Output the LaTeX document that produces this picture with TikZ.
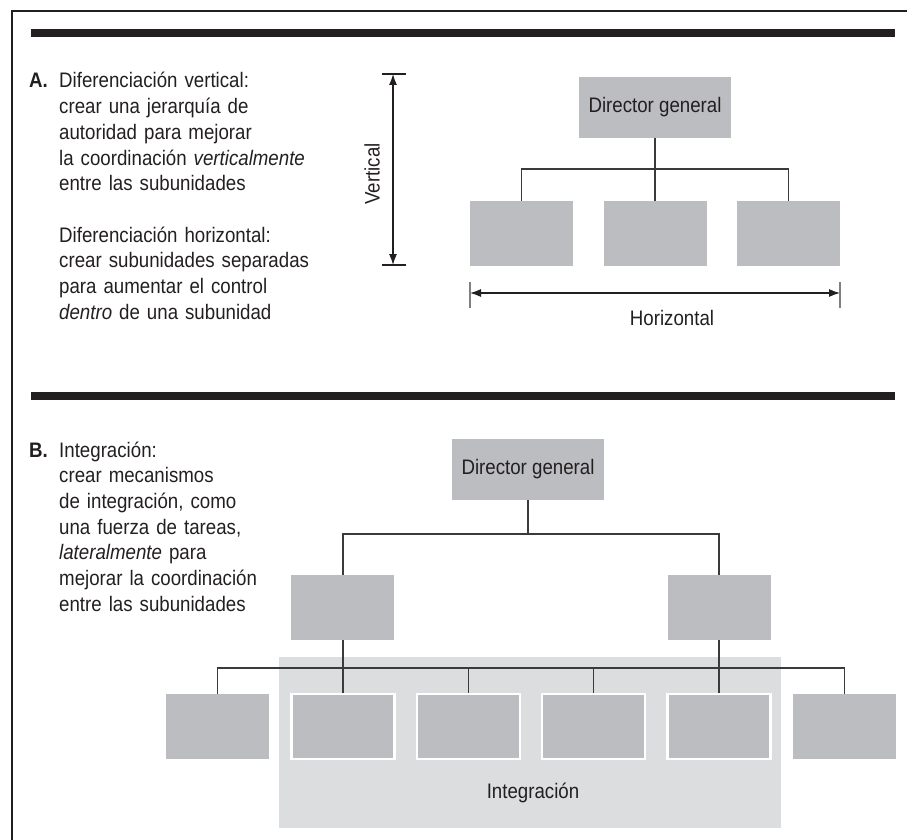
\documentclass[tikz,border=0pt]{standalone}
\usepackage{fontspec}
\setmainfont{Liberation Sans}[FakeStretch=0.89]
\usetikzlibrary{arrows.meta}
\definecolor{grisCaja}{HTML}{BCBDC0}
\definecolor{grisFondo}{HTML}{DCDDDF}
\definecolor{tinta}{HTML}{231F20}
\definecolor{linea}{HTML}{3A3A3C}

\begin{document}
\begin{tikzpicture}
  [x=1pt,y=-1pt,
   every node/.style={text=tinta,font=\fontsize{21}{25.7}\selectfont},
   jefe/.style={rectangle,fill=grisCaja,minimum width=152pt,minimum height=61pt,inner sep=0pt},
   unidad/.style={rectangle,fill=grisCaja,minimum width=103pt,minimum height=65pt,inner sep=0pt},
   integrada/.style={unidad,draw=white,line width=2.5pt},
   fondo/.style={rectangle,fill=grisFondo,minimum width=502pt,minimum height=171pt,inner sep=0pt},
   texto/.style={anchor=base west,align=left,text width=280pt,inner sep=0pt},
   conector/.style={draw=linea,line width=1.3pt},
   flecha/.style={draw=tinta,line width=1.2pt,{Latex[length=11pt,width=8pt]}-{Latex[length=11pt,width=8pt]}},
   marca/.style={draw=tinta,line width=1.2pt}]
  \useasboundingbox (0,0) rectangle (907,840);

  %Marco y barras
  \draw[tinta,line width=2pt] (12,840) -- (12,11) -- (907,11);
  \fill[tinta] (31,29) rectangle (895,37);
  \fill[tinta] (31,392) rectangle (895,400);

  %Parte A
  \node[anchor=base west,inner sep=0pt] (letraA) at (29,88) {\textbf{A.}};
  \node[texto] (textoA) at (59,88) {Diferenciación vertical:\\ crear una jerarquía de\\
    autoridad para mejorar\\ la coordinación \textit{verticalmente}\\ entre las subunidades\\[25.7pt]
    Diferenciación horizontal:\\ crear subunidades separadas\\ para aumentar el control\\
    \textit{dentro} de una subunidad};

  \node[jefe] (dirA) at (655,107.5) {Director general};
  \foreach \i/\x in {1/521.5,2/655,3/788.5}
    \node[unidad] (a\i) at (\x,233.5) {};
  \coordinate (busA) at (655,169);
  \draw[conector] (dirA) -- (busA);
  \foreach \i in {1,2,3}
    \draw[conector] (busA) -| (a\i);

  %Flechas vertical y horizontal
  \coordinate (vArriba) at (393,74);
  \coordinate (vAbajo) at (393,265);
  \draw[flecha] (vArriba) -- (vAbajo);
  \draw[marca] ([xshift=-11pt]vArriba) -- ([xshift=13pt]vArriba);
  \draw[marca] ([xshift=-11pt]vAbajo) -- ([xshift=13pt]vAbajo);
  \node[rotate=90] (etqV) at (372,174) {Vertical};

  \coordinate (hIzq) at (470,293);
  \coordinate (hDer) at (840,293);
  \draw[flecha] (hIzq) -- (hDer);
  \draw[marca,draw=gray] ([yshift=11pt]hIzq) -- ([yshift=-15pt]hIzq);
  \draw[marca,draw=gray] ([yshift=11pt]hDer) -- ([yshift=-15pt]hDer);
  \node[anchor=base] (etqH) at (672,325) {Horizontal};

  %Parte B
  \node[anchor=base west,inner sep=0pt] (letraB) at (29,457) {\textbf{B.}};
  \node[texto] (textoB) at (59,457) {Integración:\\ crear mecanismos\\ de integración, como\\
    una fuerza de tareas,\\ \textit{lateralmente} para\\ mejorar la coordinación\\ entre las subunidades};

  %Fuerza de tareas al fondo
  \node[fondo] (integ) at (530,742.5) {};
  \node[anchor=base] (etqI) at (533,798) {Integración};

  \node[jefe] (dirB) at (528,469.5) {Director general};
  \node[unidad] (m1) at (342.9,607.5) {};
  \node[unidad] (m2) at (719.1,607.5) {};
  \foreach \i/\x in {1/217.5,6/844.5}
    \node[unidad] (b\i) at (\x,726.5) {};
  \foreach \i/\x in {2/342.9,3/468.3,4/593.7,5/719.1}
    \node[integrada] (b\i) at (\x,726.5) {};

  \coordinate (busB) at (528,534);
  \coordinate (busC) at (530,668);
  \draw[conector] (dirB) -- (busB);
  \foreach \n in {m1,m2}
    \draw[conector] (busB) -| (\n);
  \draw[conector] (m1) -- (b2);
  \draw[conector] (m2) -- (b5);
  \draw[conector] (b1) |- (busC) -| (b6);
  \foreach \n in {b3,b4}
    \draw[conector] (\n) -- (\n |- busC);
\end{tikzpicture}
\end{document}
